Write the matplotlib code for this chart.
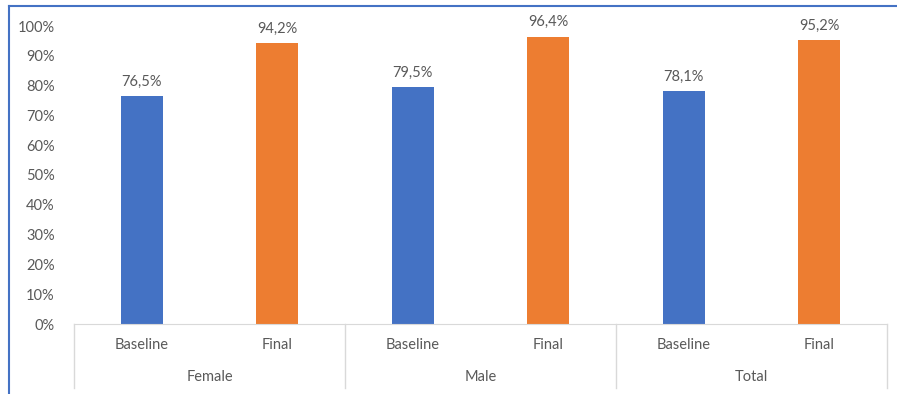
import matplotlib.pyplot as plt
from matplotlib.lines import Line2D

groups = ['Female', 'Male', 'Total']
phases = ['Baseline', 'Final']
baseline = [76.5, 79.5, 78.1]
final = [94.2, 96.4, 95.2]
yticks = [0, 10, 20, 30, 40, 50, 60, 70, 80, 90, 100]

plt.rcParams['font.family'] = ['Lato', 'DejaVu Sans']
grey = '#595959'
line_grey = '#D9D9D9'
colors = ['#4472C4', '#ED7D31']

fig = plt.figure(figsize=(8.97, 3.94), dpi=100)
ax = fig.add_axes([74 / 897, 70 / 394, 813 / 897, 298 / 394])

# six slots: Baseline/Final for each group
n = len(groups) * len(phases)
ax.set_xlim(0, n)
ax.set_ylim(0, 100)

for g in range(len(groups)):
    vals = [baseline[g], final[g]]
    for p in range(len(phases)):
        x = g * 2 + p + 0.5
        ax.bar(x, vals[p], width=0.31, color=colors[p])
        ax.text(x, vals[p] + 2.5, f"{vals[p]:.1f}".replace('.', ',') + '%',
                ha='center', va='bottom', fontsize=10.5, color=grey)
        ax.text(x, -7.2, phases[p], ha='center', va='center',
                fontsize=10.5, color=grey, clip_on=False)
    ax.text(g * 2 + 1, -17.8, groups[g], ha='center', va='center',
            fontsize=10.5, color=grey, clip_on=False)

# group separators
for b in range(len(groups) + 1):
    ax.plot([b * 2, b * 2], [0, -21.5], color=line_grey, lw=1, clip_on=False)

ax.set_yticks(yticks)
ax.set_yticklabels([f"{t}%" for t in yticks], fontsize=10.5, color=grey)
ax.tick_params(axis='y', length=0, pad=14)
ax.set_xticks([])
for s in ['top', 'right', 'left']:
    ax.spines[s].set_visible(False)
ax.spines['bottom'].set_color(line_grey)

# frame lines on top and left edge
fig.add_artist(Line2D([9 / 897, 9 / 897], [0, 1 - 6 / 394], color='#4472C4', lw=1.5,
                      transform=fig.transFigure))
fig.add_artist(Line2D([9 / 897, 1], [1 - 6 / 394, 1 - 6 / 394], color='#4472C4', lw=1.5,
                      transform=fig.transFigure))

fig.savefig('out.png', dpi=100)
